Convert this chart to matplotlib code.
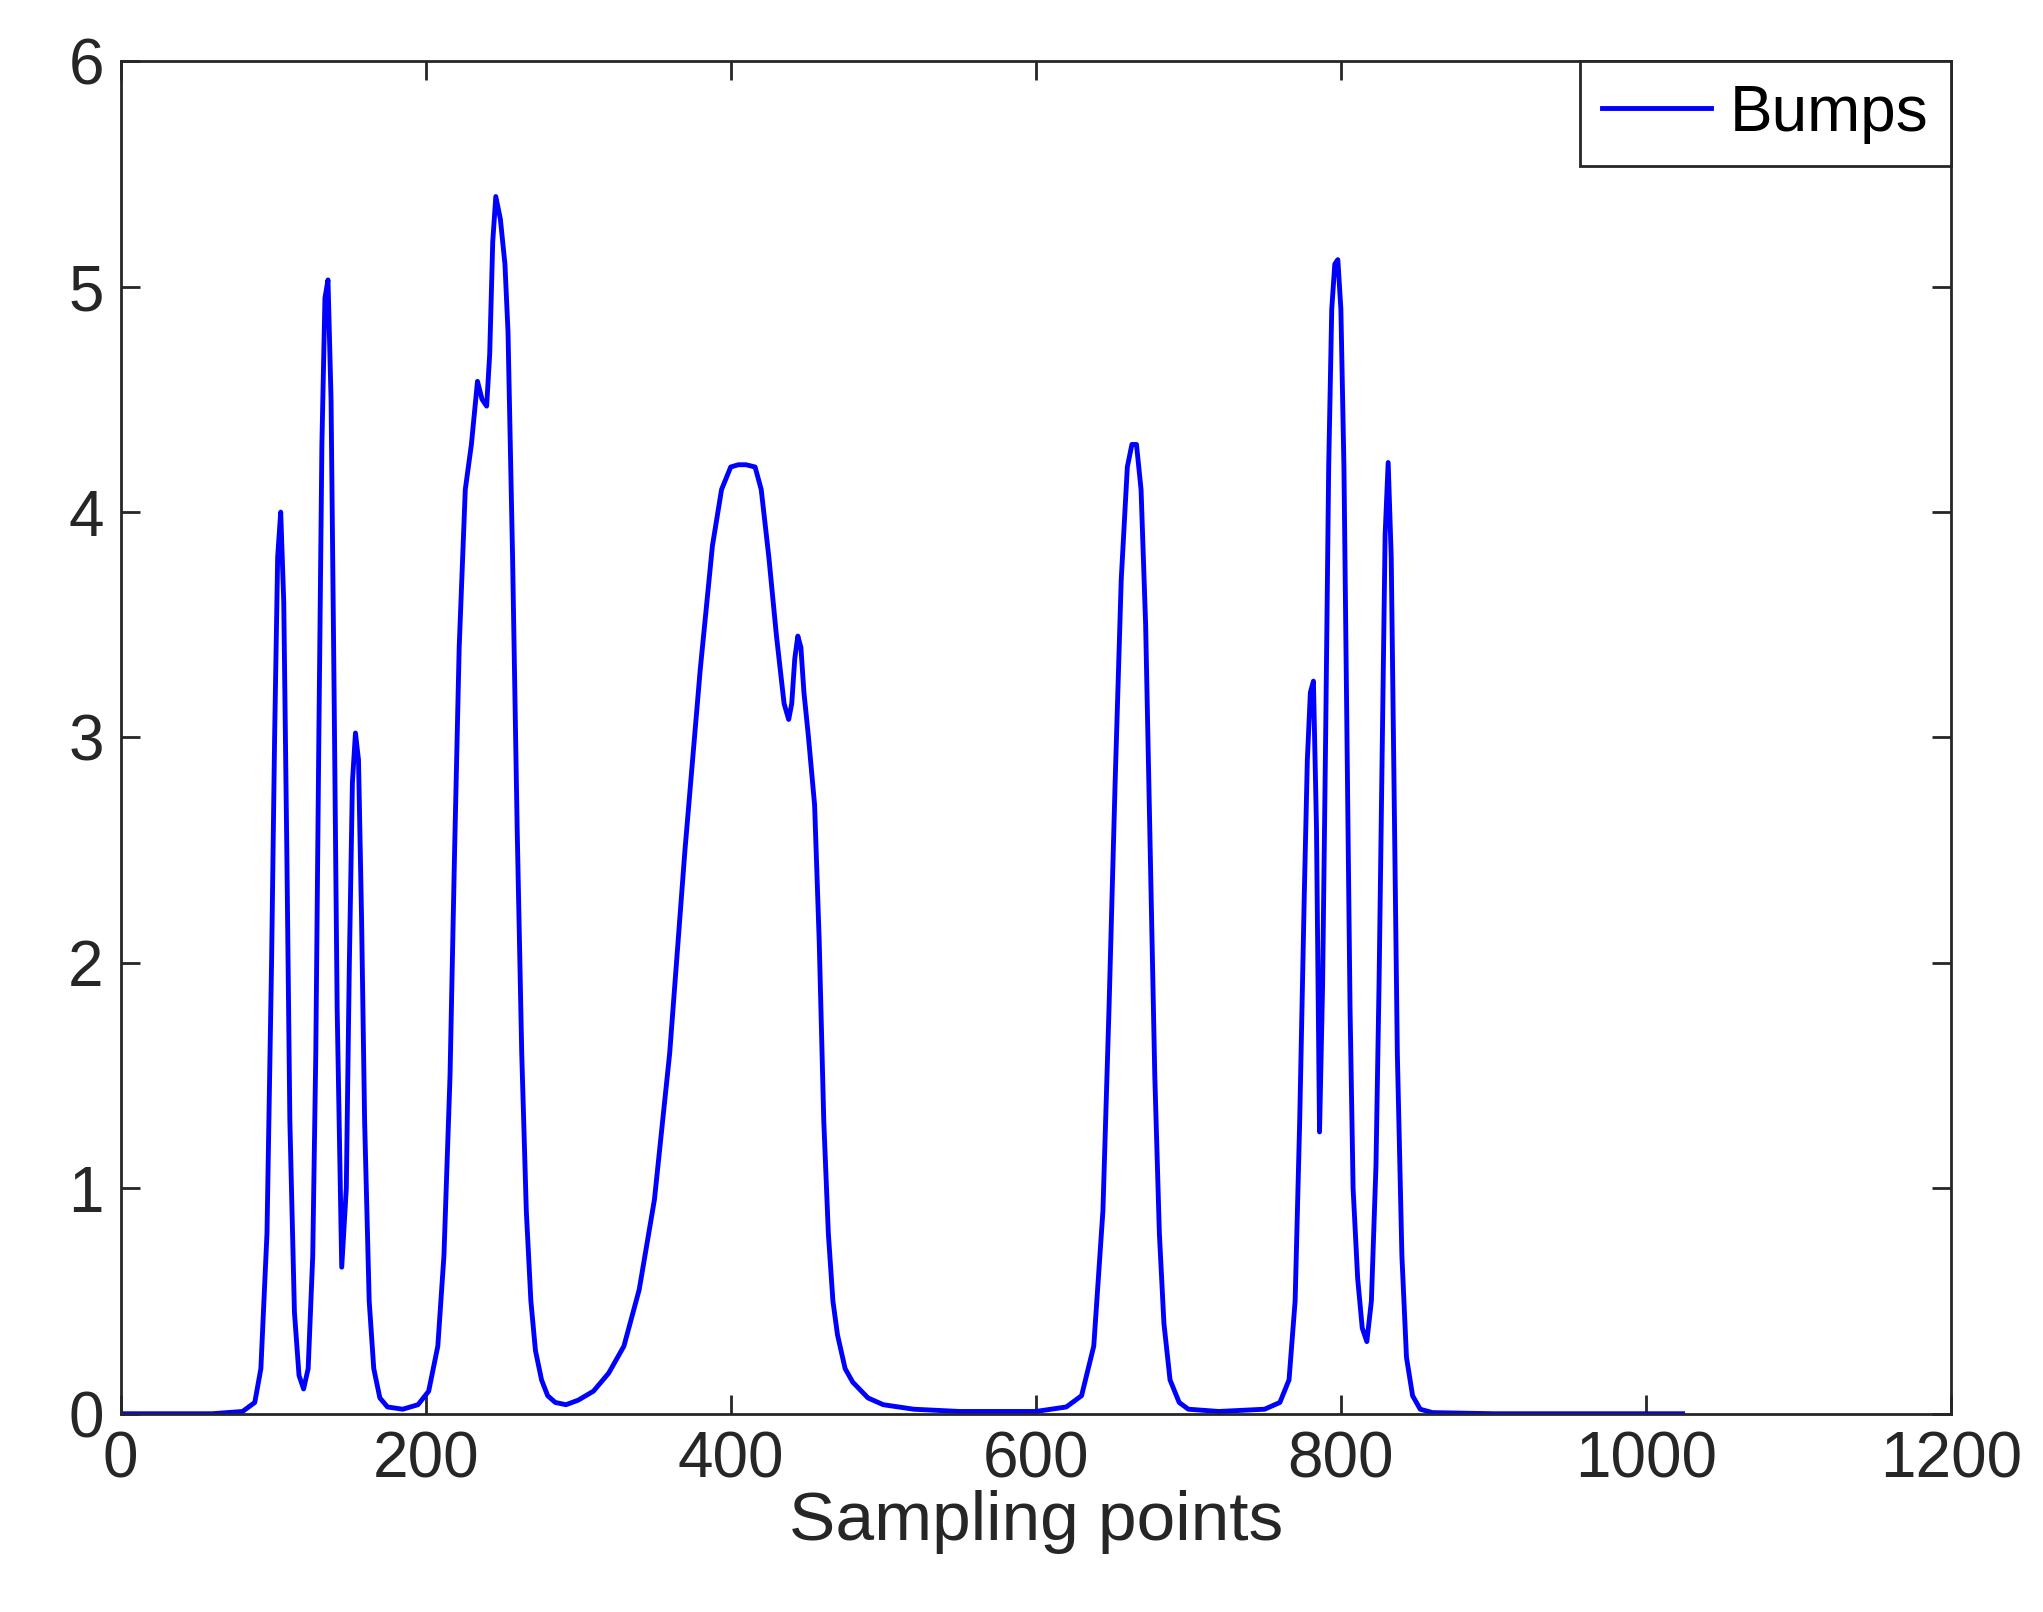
import matplotlib
matplotlib.use("Agg")
import matplotlib.pyplot as plt

plt.rcParams['font.family'] = ['Liberation Sans', 'DejaVu Sans']

# points
bumps_x = [0, 60, 80, 88, 92, 96, 99, 101, 103, 105, 107, 109, 111, 114, 117, 120, 123, 126, 128, 130, 132,
           134, 136, 138, 140, 142, 145, 148, 150, 152, 154, 156, 158, 160, 163, 166, 170, 175, 185, 195,
           202, 208, 212, 216, 219, 222, 226, 230, 234, 237, 240, 242, 244, 246, 249, 252, 254, 257, 260,
           263, 266, 269, 272, 276, 280, 285, 292, 300, 310, 320, 330, 340, 350, 360, 370, 380, 388, 394,
           400, 405, 410, 416, 420, 425, 430, 435, 438, 440, 442, 444, 446, 448, 451, 455, 458, 461, 464,
           467, 470, 475, 480, 490, 500, 520, 550, 600, 620, 630, 638, 644, 648, 652, 656, 660, 663, 666,
           669, 672, 675, 678, 681, 684, 688, 694, 700, 720, 750, 760, 766, 770, 773, 776, 778, 780, 782,
           784, 786, 788, 790, 792, 794, 796, 798, 800, 802, 804, 806, 808, 811, 814, 817, 820, 823, 825,
           827, 829, 831, 833, 835, 837, 840, 843, 847, 852, 860, 900, 1024]
bumps_y = [0, 0, 0.01, 0.05, 0.2, 0.8, 2.0, 3.0, 3.8, 4.0, 3.6, 2.5, 1.3, 0.45, 0.17, 0.11, 0.2, 0.7, 1.6, 3.0, 4.3,
           4.95, 5.03, 4.5, 3.2, 1.8, 0.65, 1.0, 2.0, 2.8, 3.02, 2.9, 2.2, 1.3, 0.5, 0.2, 0.07, 0.03, 0.02, 0.04,
           0.1, 0.3, 0.7, 1.5, 2.5, 3.4, 4.1, 4.3, 4.58, 4.5, 4.47, 4.7, 5.2, 5.4, 5.3, 5.1, 4.8, 3.8, 2.6,
           1.6, 0.9, 0.5, 0.28, 0.15, 0.08, 0.05, 0.04, 0.06, 0.1, 0.18, 0.3, 0.55, 0.95, 1.6, 2.5, 3.3, 3.85, 4.1,
           4.2, 4.21, 4.21, 4.2, 4.1, 3.8, 3.45, 3.15, 3.08, 3.15, 3.35, 3.45, 3.4, 3.2, 3.0, 2.7, 2.1, 1.3, 0.8,
           0.5, 0.35, 0.2, 0.14, 0.07, 0.04, 0.02, 0.01, 0.01, 0.03, 0.08, 0.3, 0.9, 1.8, 2.8, 3.7, 4.2, 4.3, 4.3,
           4.1, 3.5, 2.5, 1.5, 0.8, 0.4, 0.15, 0.05, 0.02, 0.01, 0.02, 0.05, 0.15, 0.5, 1.3, 2.3, 2.9, 3.2, 3.25,
           2.6, 1.25, 1.9, 3.0, 4.2, 4.9, 5.1, 5.12, 4.9, 4.2, 3.0, 1.8, 1.0, 0.6, 0.38, 0.32, 0.5, 1.1, 1.9,
           2.9, 3.9, 4.22, 3.8, 2.7, 1.6, 0.7, 0.25, 0.08, 0.02, 0.005, 0, 0]

fig = plt.figure(figsize=(20.43, 16.12), dpi=100)
ax = fig.add_axes([0.059, 0.123, 0.896, 0.839])
ax.plot(bumps_x, bumps_y, color='blue', linewidth=3.5, label='Bumps')
ax.set_xlim(0, 1200)
ax.set_ylim(0, 6)
ax.set_xticks(range(0, 1201, 200))
ax.set_yticks(range(0, 7))
ax.tick_params(direction='in', top=True, right=True, length=14, width=2, labelsize=46,
               colors='#262626', pad=12)
for s in ax.spines.values():
    s.set_linewidth(2)
    s.set_color('#262626')
ax.set_xlabel('Sampling points', fontsize=50, color='#262626', labelpad=0)
leg = ax.legend(loc='upper right', fontsize=46, fancybox=False, framealpha=1, borderaxespad=0,
                handlelength=1.7, handletextpad=0.3, borderpad=0.35, edgecolor='#262626')
leg.get_frame().set_linewidth(2)
fig.savefig('out.png', dpi=100)
